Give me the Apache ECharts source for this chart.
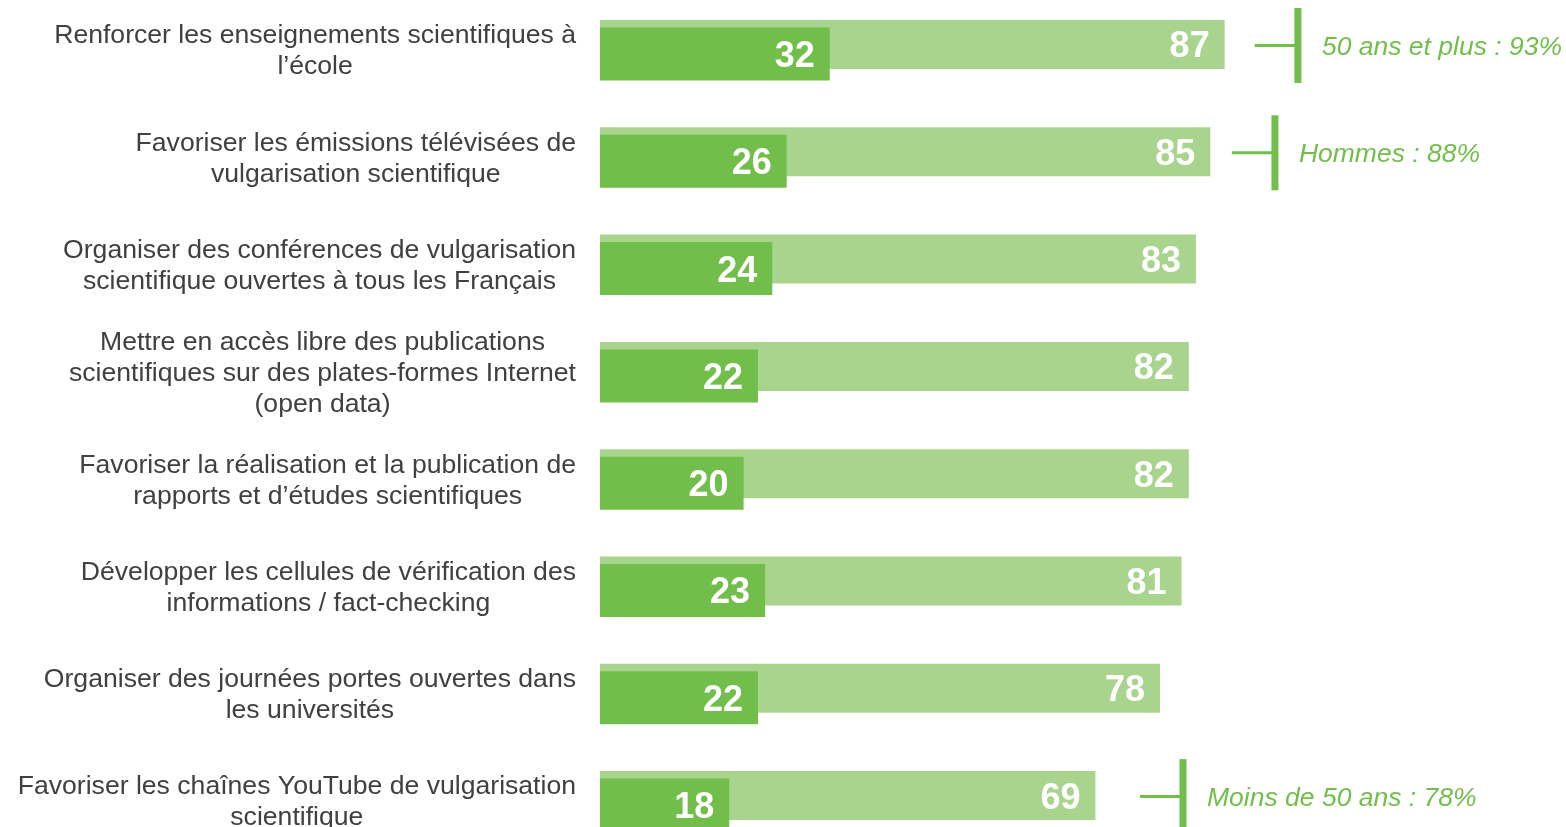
<!DOCTYPE html>
<html>
<head>
<meta charset="utf-8">
<script src="https://cdn.jsdelivr.net/npm/echarts@6/dist/echarts.min.js"></script>
<style>
html,body{margin:0;padding:0;background:#fff;}
#chart{width:1566px;height:827px;}
</style>
</head>
<body>
<div id="chart"></div>
<script>
const categories = [
  'Renforcer les enseignements scientifiques à\nl’école',
  'Favoriser les émissions télévisées de\nvulgarisation scientifique',
  'Organiser des conférences de vulgarisation\nscientifique ouvertes à tous les Français',
  'Mettre en accès libre des publications\nscientifiques sur des plates-formes Internet\n(open data)',
  'Favoriser la réalisation et la publication de\nrapports et d’études scientifiques',
  'Développer les cellules de vérification des\ninformations / fact-checking',
  'Organiser des journées portes ouvertes dans\nles universités',
  'Favoriser les chaînes YouTube de vulgarisation\nscientifique'
];
const totalValues = [87, 85, 83, 82, 82, 81, 78, 69];
const subValues = [32, 26, 24, 22, 20, 23, 22, 18];
const noteRows = [0, 1, 7];
const noteTexts = ['50 ans et plus : 93%', 'Hommes : 88%', 'Moins de 50 ans : 78%'];
const noteBracketX = [97.2, 94.0, 81.2];
const noteLineLen = 6;

const FONT = "'Liberation Sans', Arial, sans-serif";
const LIGHT = '#A9D48E';
const DARK = '#71BF4A';
const BAND = 107.3;
const H = BAND * categories.length;

const chart = echarts.init(document.getElementById('chart'), null, {renderer: 'canvas'});

function grid(top) {
  return {left: 600, width: 718, top: top, height: H, outerBoundsMode: 'none', containLabel: false};
}
function xAx(idx) {
  return {gridIndex: idx, type: 'value', min: 0, max: 100, show: false};
}
function yAx(idx, showLabels) {
  return {
    gridIndex: idx, type: 'category', data: categories, inverse: true,
    axisLine: {show: false}, axisTick: {show: false}, splitLine: {show: false},
    axisLabel: showLabels ? {
      show: true, margin: 24,
      formatter: v => v.split('\n').map(l => '{a|' + l + '}').join('\n'),
      rich: {a: {fontSize: 26.6, lineHeight: 31, align: 'center', color: '#404040', fontFamily: FONT}}
    } : {show: false}
  };
}

const noteData = noteRows.map((r, i) => [noteBracketX[i], r]);
const valueLabel = {show: true, position: 'insideRight', distance: 15, color: '#fff',
  fontSize: 36, fontWeight: 'bold', fontFamily: FONT, offset: [0, 3]};

const option = {
  backgroundColor: '#fff',
  animation: false,
  grid: [grid(-9.15), grid(0.35), grid(-2.15)],
  xAxis: [xAx(0), xAx(1), xAx(2)],
  yAxis: [yAx(0, false), yAx(1, false), yAx(2, true)],
  series: [
    {
      type: 'bar', xAxisIndex: 0, yAxisIndex: 0, data: totalValues, barWidth: 49,
      itemStyle: {color: LIGHT}, label: valueLabel
    },
    {
      type: 'bar', xAxisIndex: 1, yAxisIndex: 1, data: subValues, barWidth: 53,
      itemStyle: {color: DARK}, label: valueLabel
    },
    {
      type: 'custom', xAxisIndex: 0, yAxisIndex: 0, clip: false, z: 5,
      encode: {x: 0, y: 1},
      data: noteData,
      renderItem: function (params, api) {
        const bx = api.value(0);
        const row = api.value(1);
        const p = api.coord([bx, row]);
        const s = api.coord([bx - noteLineLen, row]);
        const cy = p[1] + 1;
        const half = 37.5;
        return {
          type: 'group',
          children: [
            {type: 'line', shape: {x1: s[0], y1: cy, x2: p[0], y2: cy},
              style: {stroke: DARK, lineWidth: 3}},
            {type: 'rect', shape: {x: p[0] - 3.5, y: cy - half, width: 7, height: half * 2},
              style: {fill: DARK}},
            {type: 'text', style: {text: noteTexts[params.dataIndex], x: p[0] + 24, y: cy + 2,
              fill: DARK, fontSize: 26.5, fontStyle: 'italic', fontFamily: FONT,
              align: 'left', verticalAlign: 'middle'}}
          ]
        };
      }
    }
  ]
};
chart.setOption(option);
</script>
</body>
</html>
